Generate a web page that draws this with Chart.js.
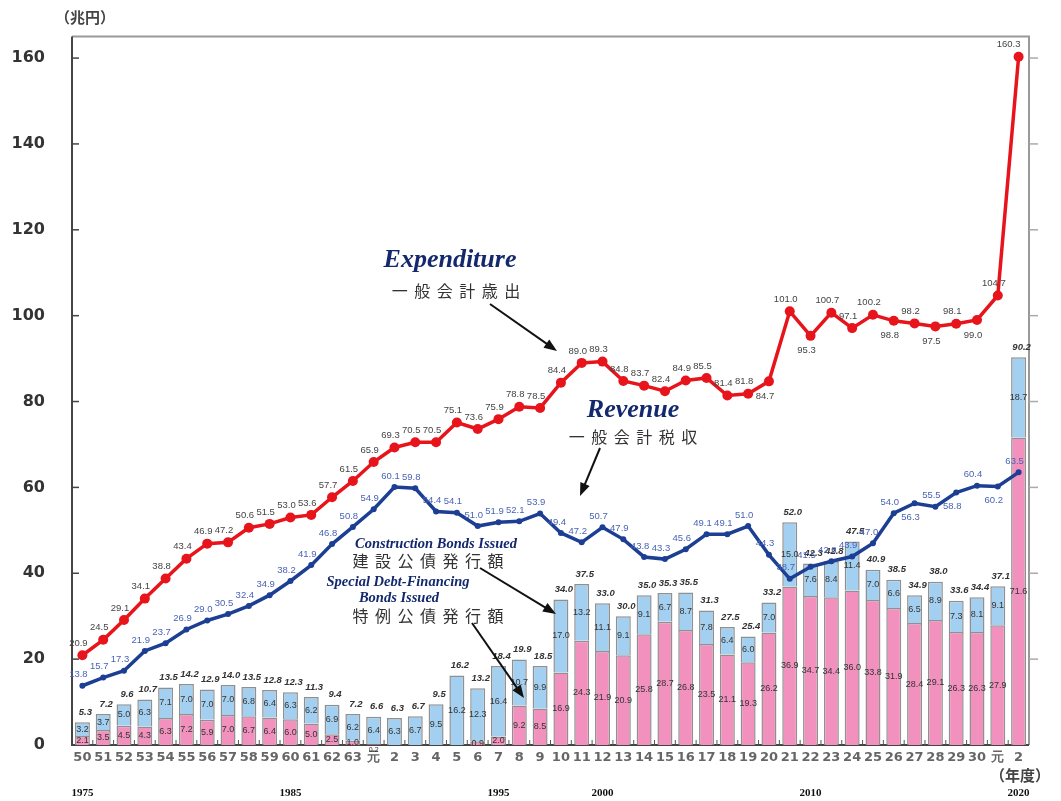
<!DOCTYPE html>
<html>
<head>
<meta charset="utf-8">
<script src="https://cdn.jsdelivr.net/npm/chart.js@4"></script>
<style>
  body { margin: 0; background: #fff; }
  #wrap { width: 1061px; height: 801px; }
</style>
</head>
<body>
<div id="wrap"><canvas id="chart"></canvas></div>
<script>
// fiscal years: Showa 50..63, Heisei 元..30, Reiwa 元..2
const years = ["50","51","52","53","54","55","56","57","58","59","60","61","62","63",
  "元","2","3","4","5","6","7","8","9","10","11","12","13","14","15","16","17","18","19","20",
  "21","22","23","24","25","26","27","28","29","30","元","2"];

// 一般会計歳出 (兆円)
const expenditure = [20.9,24.5,29.1,34.1,38.8,43.4,46.9,47.2,50.6,51.5,53.0,53.6,57.7,61.5,
  65.9,69.3,70.5,70.5,75.1,73.6,75.9,78.8,78.5,84.4,89.0,89.3,84.8,83.7,82.4,84.9,85.5,81.4,81.8,84.7,
  101.0,95.3,100.7,97.1,100.2,98.8,98.2,97.5,98.1,99.0,104.7,160.3];

// 一般会計税収 (兆円)
const revenue = [13.8,15.7,17.3,21.9,23.7,26.9,29.0,30.5,32.4,34.9,38.2,41.9,46.8,50.8,
  54.9,60.1,59.8,54.4,54.1,51.0,51.9,52.1,53.9,49.4,47.2,50.7,47.9,43.8,43.3,45.6,49.1,49.1,51.0,44.3,
  38.7,41.5,42.8,43.9,47.0,54.0,56.3,55.5,58.8,60.4,60.2,63.5];

// 特例公債発行額 (兆円)
const specialBonds = [2.1,3.5,4.5,4.3,6.3,7.2,5.9,7.0,6.7,6.4,6.0,5.0,2.5,1.0,
  0.2,0,0,0,0,0.9,2.0,9.2,8.5,16.9,24.3,21.9,20.9,25.8,28.7,26.8,23.5,21.1,19.3,26.2,
  36.9,34.7,34.4,36.0,33.8,31.9,28.4,29.1,26.3,26.3,27.9,71.6];

// 建設公債発行額 (兆円)
const constructionBonds = [3.2,3.7,5.0,6.3,7.1,7.0,7.0,7.0,6.8,6.4,6.3,6.2,6.9,6.2,
  6.4,6.3,6.7,9.5,16.2,12.3,16.4,10.7,9.9,17.0,13.2,11.1,9.1,9.1,6.7,8.7,7.8,6.4,6.0,7.0,
  15.0,7.6,8.4,11.4,7.0,6.6,6.5,8.9,7.3,8.1,9.1,18.7];

// printed bond totals
const bondTotals = [5.3,7.2,9.6,10.7,13.5,14.2,12.9,14.0,13.5,12.8,12.3,11.3,9.4,7.2,
  6.6,6.3,6.7,9.5,16.2,13.2,18.4,19.9,18.5,34.0,37.5,33.0,30.0,35.0,35.3,35.5,31.3,27.5,25.4,33.2,
  52.0,42.3,42.8,47.5,40.9,38.5,34.9,38.0,33.6,34.4,37.1,90.2];

// western year markers under the axis
const markerIndex = [0, 10, 20, 25, 35, 45];
const markerLabels = ["1975", "1985", "1995", "2000", "2010", "2020"];

// labels drawn below the point instead of above
const expBelow = [33, 35, 39, 41, 43];
const revBelow = [40, 42, 44];

const SERIF = "'Liberation Serif', 'Times New Roman', serif";
const SANS = "'Liberation Sans', Arial, sans-serif";
const WIDE = "'DejaVu Sans', Verdana, sans-serif";
const CJK = "'Noto Sans CJK JP', sans-serif";

function arrow(ctx, x1, y1, x2, y2) {
  const a = Math.atan2(y2 - y1, x2 - x1);
  ctx.save();
  ctx.strokeStyle = "#111";
  ctx.fillStyle = "#111";
  ctx.lineWidth = 2;
  ctx.beginPath();
  ctx.moveTo(x1, y1);
  ctx.lineTo(x2 - 8 * Math.cos(a), y2 - 8 * Math.sin(a));
  ctx.stroke();
  ctx.beginPath();
  ctx.moveTo(x2, y2);
  ctx.lineTo(x2 - 13 * Math.cos(a) + 5 * Math.sin(a), y2 - 13 * Math.sin(a) - 5 * Math.cos(a));
  ctx.lineTo(x2 - 13 * Math.cos(a) - 5 * Math.sin(a), y2 - 13 * Math.sin(a) + 5 * Math.cos(a));
  ctx.closePath();
  ctx.fill();
  ctx.restore();
}

function spaced(ctx, text, cx, cy, step) {
  const chars = Array.from(text);
  const start = cx - (chars.length - 1) * step / 2;
  chars.forEach((c, i) => ctx.fillText(c, start + i * step, cy));
}

const framePlugin = {
  id: "frame",
  beforeDatasetsDraw(chart) {
    const { ctx, chartArea: a, scales } = chart;
    ctx.save();
    // top + right border
    ctx.strokeStyle = "#999";
    ctx.lineWidth = 2;
    ctx.beginPath();
    ctx.moveTo(a.left, a.top);
    ctx.lineTo(a.right, a.top);
    ctx.lineTo(a.right, a.bottom);
    ctx.stroke();
    // left + bottom axis
    ctx.strokeStyle = "#444";
    ctx.beginPath();
    ctx.moveTo(a.left, a.top);
    ctx.lineTo(a.left, a.bottom);
    ctx.lineTo(a.right, a.bottom);
    ctx.stroke();
    // y ticks: inward on the left, outward on the right
    ctx.lineWidth = 1.5;
    scales.y.ticks.forEach(t => {
      const y = scales.y.getPixelForValue(t.value);
      if (t.value === 0) return;
      ctx.strokeStyle = "#444";
      ctx.beginPath(); ctx.moveTo(a.left, y); ctx.lineTo(a.left + 7, y); ctx.stroke();
      ctx.strokeStyle = "#aaa";
      ctx.beginPath(); ctx.moveTo(a.right, y); ctx.lineTo(a.right + 9, y); ctx.stroke();
    });
    // small category dividers on the x axis
    const step = (a.right - a.left) / years.length;
    ctx.strokeStyle = "#555";
    ctx.lineWidth = 1;
    for (let i = 1; i < years.length; i++) {
      const x = a.left + i * step;
      ctx.beginPath(); ctx.moveTo(x, a.bottom); ctx.lineTo(x, a.bottom - 5); ctx.stroke();
    }
    ctx.restore();
  },
  afterDatasetsDraw(chart) {
    const { ctx, chartArea: a, scales } = chart;
    const pink = chart.getDatasetMeta(0).data;
    const blue = chart.getDatasetMeta(1).data;
    const exp = chart.getDatasetMeta(2).data;
    const rev = chart.getDatasetMeta(3).data;
    ctx.save();
    ctx.textAlign = "center";
    ctx.textBaseline = "middle";

    // bond segment labels
    ctx.font = "9px " + SANS;
    ctx.fillStyle = "#333";
    pink.forEach((b, i) => {
      const v = specialBonds[i];
      if (v >= 0.9) ctx.fillText(v.toFixed(1), b.x, (b.y + b.base) / 2);
    });
    blue.forEach((b, i) => {
      ctx.fillText(constructionBonds[i].toFixed(1), b.x, (b.y + b.base) / 2);
    });
    ctx.font = "7px " + SANS;
    ctx.fillText(specialBonds[14].toFixed(1), pink[14].x, a.bottom + 5);

    // bond totals
    ctx.font = "italic bold 9.5px " + SANS;
    ctx.fillStyle = "#333";
    blue.forEach((b, i) => ctx.fillText(bondTotals[i].toFixed(1), b.x + 3, b.y - 10));

    // expenditure labels
    ctx.font = "9.5px " + SANS;
    ctx.fillStyle = "#444";
    exp.forEach((p, i) => {
      const below = expBelow.includes(i);
      const dx = i === 45 ? -10 : -4;
      ctx.fillText(expenditure[i].toFixed(1), p.x + dx, below ? p.y + 15 : p.y - 12);
    });

    // revenue labels
    ctx.fillStyle = "#4a63b5";
    rev.forEach((p, i) => {
      const below = revBelow.includes(i);
      ctx.fillText(revenue[i].toFixed(1), p.x - 4, below ? p.y + 14 : p.y - 11);
    });

    // western years
    ctx.font = "bold 11px " + SERIF;
    ctx.fillStyle = "#111";
    markerIndex.forEach((idx, k) => {
      ctx.fillText(markerLabels[k], scales.x.getPixelForValue(idx), 793);
    });

    // units
    ctx.font = "bold 15px " + CJK;
    ctx.fillStyle = "#444";
    ctx.fillText("（兆円）", 85, 17);
    ctx.fillText("（年度）", 1020, 775);

    // annotations
    ctx.fillStyle = "#14286e";
    ctx.font = "italic bold 26px " + SERIF;
    ctx.fillText("Expenditure", 450, 260);
    ctx.fillText("Revenue", 633, 410);
    ctx.font = "italic bold 14.5px " + SERIF;
    ctx.fillText("Construction Bonds Issued", 436, 544);
    ctx.fillText("Special Debt-Financing", 398, 582);
    ctx.fillText("Bonds Issued", 399, 598);

    ctx.fillStyle = "#333";
    ctx.font = "16px " + CJK;
    spaced(ctx, "一般会計歳出", 456, 291, 22.5);
    spaced(ctx, "一般会計税収", 633, 437, 22.5);
    spaced(ctx, "建設公債発行額", 428, 561, 22.5);
    spaced(ctx, "特例公債発行額", 428, 616, 22.5);

    arrow(ctx, 490, 304, 557, 351);
    arrow(ctx, 600, 448, 580, 496);
    arrow(ctx, 480, 568, 556, 614);
    arrow(ctx, 472, 623, 524, 698);
    ctx.restore();
  }
};

new Chart(document.getElementById("chart"), {
  data: {
    labels: years,
    datasets: [
      {
        type: "bar",
        label: "特例公債発行額",
        data: specialBonds,
        yAxisID: "yb",
        backgroundColor: "#f291bd",
        borderColor: "#909090",
        borderWidth: 1.5,
        categoryPercentage: 1,
        barPercentage: 0.72,
        order: 1,
      },
      {
        type: "bar",
        label: "建設公債発行額",
        data: constructionBonds,
        yAxisID: "yb",
        backgroundColor: "#a3d0f0",
        borderColor: "#909090",
        borderWidth: 1.5,
        categoryPercentage: 1,
        barPercentage: 0.72,
        order: 1,
      },
      {
        type: "line",
        label: "一般会計歳出",
        data: expenditure,
        yAxisID: "y",
        borderColor: "#e8141c",
        backgroundColor: "#e8141c",
        borderWidth: 3.5,
        pointRadius: 5,
        pointBorderWidth: 0,
        tension: 0,
        order: 0,
      },
      {
        type: "line",
        label: "一般会計税収",
        data: revenue,
        yAxisID: "y",
        borderColor: "#1c3f94",
        backgroundColor: "#1c3f94",
        borderWidth: 3.5,
        pointRadius: 3,
        pointBorderWidth: 0,
        tension: 0,
        order: 0,
      },
    ],
  },
  options: {
    responsive: true,
    maintainAspectRatio: false,
    animation: false,
    layout: { padding: { left: 0, right: 32, top: 36, bottom: 0 } },
    plugins: { legend: { display: false }, tooltip: { enabled: false } },
    scales: {
      x: {
        stacked: true,
        offset: true,
        grid: { display: false, drawTicks: false },
        border: { display: false },
        ticks: {
          autoSkip: false,
          maxRotation: 0,
          padding: 5,
          color: "#666",
          font: { family: WIDE, size: 13, weight: "bold" },
        },
        afterFit: s => { s.height = 56; },
      },
      y: {
        min: 0,
        max: 165,
        grid: { display: false, drawTicks: false },
        border: { display: false },
        ticks: {
          stepSize: 20,
          padding: 27,
          color: "#333",
          font: { family: WIDE, size: 16, weight: "bold" },
        },
        afterBuildTicks: s => { s.ticks = s.ticks.filter(t => t.value % 20 === 0); },
        afterFit: s => { s.width = 72; },
      },
      yb: {
        stacked: true,
        display: false,
        min: 0,
        max: 165,
      },
    },
  },
  plugins: [framePlugin],
});
</script>
</body>
</html>
